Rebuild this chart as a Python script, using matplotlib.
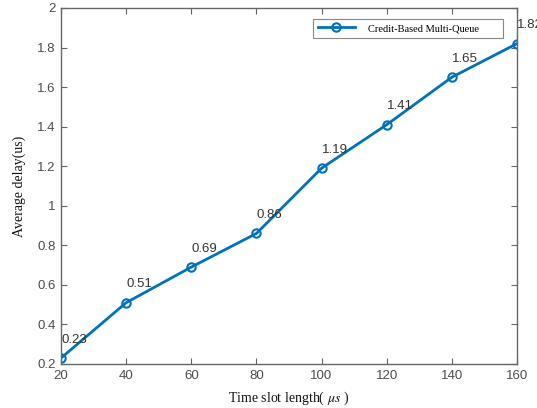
import matplotlib
matplotlib.use("Agg")
import matplotlib.pyplot as plt
from matplotlib.ticker import FuncFormatter

slot_len = [20, 40, 60, 80, 100, 120, 140, 160]
delay = [0.23, 0.51, 0.69, 0.86, 1.19, 1.41, 1.65, 1.82]
series_name = "Credit-Based Multi-Queue"
x_ticks = [20, 40, 60, 80, 100, 120, 140, 160]
y_ticks = [0.2, 0.4, 0.6, 0.8, 1.0, 1.2, 1.4, 1.6, 1.8, 2.0]

plt.rcParams['mathtext.fontset'] = 'stix'

fig = plt.figure(figsize=(5.37, 4.08), dpi=100)
ax = fig.add_axes([61/537, 1-364/408, 456/537, 356/408])

blue = '#0072BD'
ax.plot(slot_len, delay, color=blue, lw=2, marker='o', ms=6,
        mfc='none', mec=blue, mew=1.5, label=series_name)

for x, y in zip(slot_len, delay):
    ax.annotate(f"{y:.2f}", (x, y), xytext=(0, 9), textcoords='offset points',
                ha='left', va='bottom', fontsize=9.5, color='#333333',
                family='Liberation Sans', clip_on=False)

ax.set_xlim(20, 160)
ax.set_ylim(0.2, 2.0)
ax.set_xticks(x_ticks)
ax.set_yticks(y_ticks)
ax.yaxis.set_major_formatter(FuncFormatter(lambda v, p: f"{v:g}"))

spine_c = '#666666'
for s in ax.spines.values():
    s.set_color(spine_c)
    s.set_linewidth(1.0)
ax.tick_params(direction='in', length=4, width=0.8, color=spine_c,
               labelsize=9.5, labelcolor='#4d4d4d', top=True, right=True, pad=4)
for lab in ax.get_xticklabels() + ax.get_yticklabels():
    lab.set_family('Liberation Sans')

ax.set_xlabel(r"Time slot length( $\mu s$ )", family='Liberation Serif',
              fontsize=10, color='#111111', labelpad=6)
ax.set_ylabel("Average delay(us)", family='Liberation Serif',
              fontsize=10, color='#111111', labelpad=8)

leg = ax.legend(loc='upper right', bbox_to_anchor=(0.5526, 0.91, 0.4167, 0.059),
                mode='expand', prop={'family': 'Liberation Serif', 'size': 7.5},
                handlelength=3.6, handletextpad=1.2, borderpad=0.45,
                borderaxespad=0, fancybox=False, framealpha=1, edgecolor='#888888')
leg.get_frame().set_linewidth(0.8)

fig.savefig("out.png", dpi=100)
